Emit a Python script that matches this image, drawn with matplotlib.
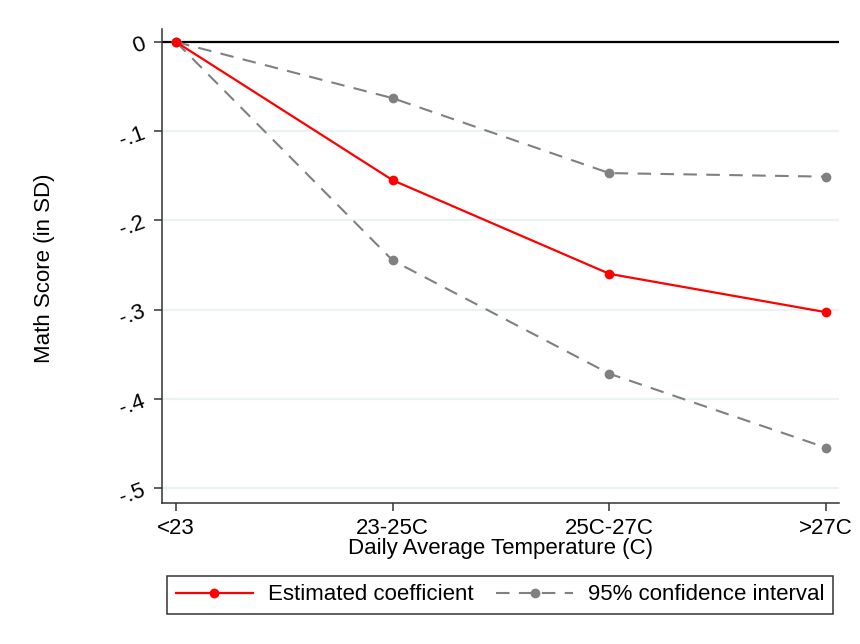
import numpy as np
import matplotlib.pyplot as plt

plt.rcParams['font.family'] = ['Liberation Sans', 'DejaVu Sans']

# temperature bins and estimates
categories = ["<23", "23-25C", "25C-27C", ">27C"]
coef = [0.0, -0.155, -0.260, -0.303]
ci_upper = [0.0, -0.063, -0.147, -0.151]
ci_lower = [0.0, -0.245, -0.372, -0.455]
yticks = [0.0, -0.1, -0.2, -0.3, -0.4, -0.5]
ytick_labels = ["0", "-.1", "-.2", "-.3", "-.4", "-.5"]

fig = plt.figure(figsize=(8.6, 6.44), dpi=100)
ax = fig.add_axes([162 / 860, 1 - 503 / 644, (839 - 162) / 860, (503 - 29) / 644])

x = np.arange(len(categories))

for yv in yticks:
    ax.axhline(yv, color='#eaf2f3', lw=1.6, zorder=0)
ax.axhline(0, color='black', lw=1.6, zorder=1)

gray = '#808080'
dash = (0, (6.5, 4.5))
ax.plot(x, ci_upper, color=gray, lw=1.5, ls=dash, marker='o', ms=6,
        zorder=2, label='95% confidence interval')
ax.plot(x, ci_lower, color=gray, lw=1.5, ls=dash, marker='o', ms=6, zorder=2)
ax.plot(x, coef, color='red', lw=1.6, marker='o', ms=6, zorder=3,
        label='Estimated coefficient')

ax.set_xlim(-0.065, 3.06)
ax.set_ylim(-0.517, 0.0146)
ax.set_xticks(x)
ax.set_xticklabels(categories, fontsize=16)
ax.set_yticks(yticks)
ax.set_yticklabels(ytick_labels, fontsize=16, rotation=20)
ax.tick_params(axis='both', direction='out', length=6, width=1.1, color='#333333')
ax.tick_params(axis='x', pad=5)
ax.tick_params(axis='y', pad=4)

for side in ['top', 'right']:
    ax.spines[side].set_visible(False)
for side in ['left', 'bottom']:
    ax.spines[side].set_color('#333333')
    ax.spines[side].set_linewidth(1.1)

ax.set_xlabel("Daily Average Temperature (C)", fontsize=16, labelpad=-1)
fig.text(45 / 860, 1 - 268 / 644, "Math Score (in SD)", rotation=90,
         fontsize=16, ha='center', va='center')

handles, labels = ax.get_legend_handles_labels()
leg = fig.legend(handles[::-1], labels[::-1], loc='center',
                 bbox_to_anchor=(500 / 860, 1 - 595 / 644), ncol=2,
                 fontsize=16, frameon=True, fancybox=False, handlelength=3.5,
                 handletextpad=0.65, columnspacing=1.0, borderpad=0.4)
leg.get_frame().set_edgecolor('black')
leg.get_frame().set_linewidth(1.1)

fig.savefig("out.png", dpi=100)
